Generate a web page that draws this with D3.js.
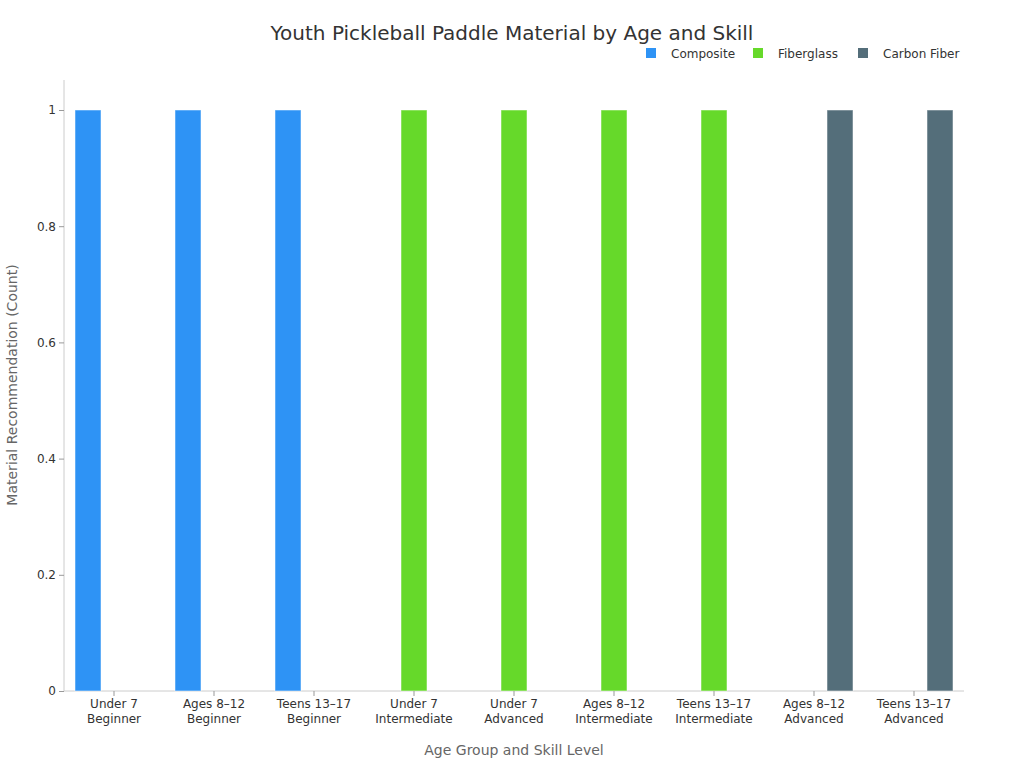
<!DOCTYPE html>
<html><head><meta charset="utf-8">
<script src="https://cdn.jsdelivr.net/npm/d3@7"></script>
<style>body{margin:0;background:#fff;font-family:"DejaVu Sans",sans-serif}</style>
</head><body><svg id="c" width="1024" height="768" font-family="DejaVu Sans"></svg>
<script>
const categories = [["Under 7","Beginner"],["Ages 8–12","Beginner"],["Teens 13–17","Beginner"],["Under 7","Intermediate"],["Under 7","Advanced"],["Ages 8–12","Intermediate"],["Teens 13–17","Intermediate"],["Ages 8–12","Advanced"],["Teens 13–17","Advanced"]];
const seriesNames = ["Composite","Fiberglass","Carbon Fiber"];
const colors = ["#2e93f5","#66d92a","#546e7a"];
const composite = [1,1,1,0,0,0,0,0,0];
const fiberglass = [0,0,0,1,1,1,1,0,0];
const carbon = [0,0,0,0,0,0,0,1,1];
const yTicks = [0,0.2,0.4,0.6,0.8,1];
const values = [composite, fiberglass, carbon];

const svg = d3.select("#c");
const m = {l:64, r:964, t:110, b:691};
const x = d3.scaleBand().domain(categories.map((d,i)=>i)).range([m.l,m.r]).paddingInner(0.22).paddingOuter(0.11);
const x1 = d3.scaleBand().domain([0,1,2]).range([0,x.bandwidth()]);
const y = d3.scaleLinear().domain([0,1]).range([m.b,m.t]);

svg.append("text").attr("x",512).attr("y",40).attr("text-anchor","middle").attr("font-size",20).attr("fill","#333").text("Youth Pickleball Paddle Material by Age and Skill");

svg.append("line").attr("x1",m.l).attr("x2",m.l).attr("y1",80).attr("y2",m.b).attr("stroke","#ccc");
svg.append("line").attr("x1",m.l).attr("x2",m.r).attr("y1",m.b).attr("y2",m.b).attr("stroke","#ccc");
const ya = svg.append("g").attr("transform",`translate(${m.l},0)`).call(d3.axisLeft(y).tickValues(yTicks).tickFormat(d3.format("")).tickSize(5));
ya.select(".domain").remove();
ya.selectAll("line").attr("stroke","#999");
ya.selectAll("text").attr("font-size",12).attr("fill","#333").attr("font-family","DejaVu Sans");

values.forEach((vals,s)=>{
  svg.append("g").selectAll("rect").data(vals).join("rect")
   .attr("x",(d,i)=>x(i)+x1(s)).attr("width",x1.bandwidth())
   .attr("y",d=>y(d)).attr("height",d=>m.b-y(d))
   .attr("fill",colors[s]).attr("stroke","#fff").attr("stroke-opacity",0.5);
});

const xg = svg.append("g");
categories.forEach((c,i)=>{
  const cx = x(i)+x.bandwidth()/2;
  xg.append("line").attr("x1",cx).attr("x2",cx).attr("y1",m.b).attr("y2",m.b+5).attr("stroke","#999");
  const t = xg.append("text").attr("x",cx).attr("y",m.b+17).attr("text-anchor","middle").attr("font-size",12).attr("fill","#333");
  t.append("tspan").attr("x",cx).text(c[0]);
  t.append("tspan").attr("x",cx).attr("dy",15).text(c[1]);
});

svg.append("text").attr("x",514).attr("y",755).attr("text-anchor","middle").attr("font-size",14).attr("fill","#666").text("Age Group and Skill Level");
svg.append("text").attr("transform","translate(17,385) rotate(-90)").attr("text-anchor","middle").attr("font-size",14).attr("fill","#666").text("Material Recommendation (Count)");

const lx = [646, 753, 858];
seriesNames.forEach((n,i)=>{
  svg.append("rect").attr("x",lx[i]).attr("y",48).attr("width",10).attr("height",10).attr("fill",colors[i]);
  svg.append("text").attr("x",lx[i]+25).attr("y",58).attr("font-size",12).attr("fill","#333").text(n);
});
</script></body></html>
